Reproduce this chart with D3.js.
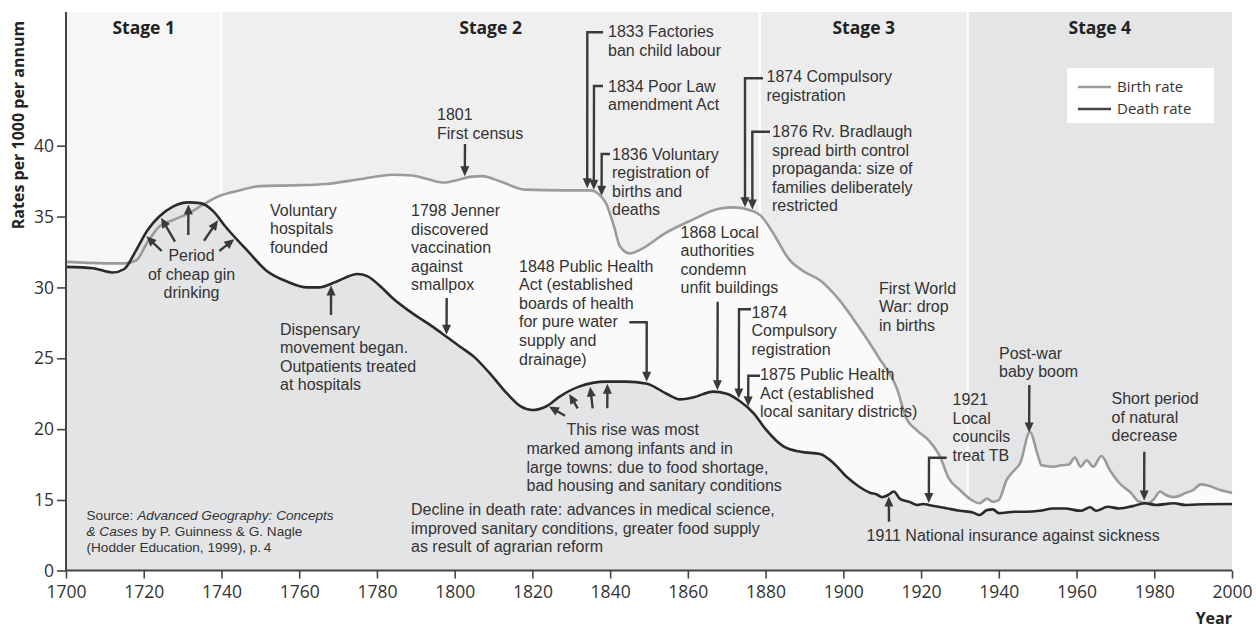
<!DOCTYPE html>
<html><head><meta charset="utf-8">
<script src="https://cdnjs.cloudflare.com/ajax/libs/d3/7.8.5/d3.min.js"></script>
<style>
body{margin:0;background:#fff}
svg text{font-family:"Open Sans",sans-serif;fill:#333}
svg text.note{font-family:"Liberation Sans",Arial,sans-serif}
</style></head><body>
<svg id="chart" width="1256" height="628"></svg>
<script>
// Birth and death rates, England and Wales, per 1000 per annum
const birthYears=[1700,1710,1715,1718,1721,1724,1728,1732,1735,1739,1744,1750,1758,1767,1776,1784,1789,1793,1797,1801,1804,1807,1812,1818,1828,1835,1837,1839,1841,1842.5,1845,1848,1854,1861,1868,1872,1876,1879,1882,1886,1890,1894,1899,1904,1909,1914,1916,1919,1922,1925,1927,1930,1933,1935,1937,1938.5,1940,1942,1944,1945.5,1948,1950,1951,1954,1956,1958,1959.6,1961,1962.6,1964.3,1966.4,1968.6,1971,1974,1976,1978.4,1980,1981.5,1983,1985,1987,1988,1990,1992,1994,1997,2000];
const birthRates=[31.8,31.7,31.7,31.9,33.2,34.3,34.8,35.3,35.8,36.4,36.8,37.15,37.2,37.3,37.65,37.95,37.9,37.65,37.4,37.6,37.8,37.85,37.45,36.9,36.85,36.85,36.6,35.9,34.3,32.9,32.4,32.7,33.8,34.75,35.55,35.65,35.45,35.0,33.8,32.0,31.1,30.5,29.1,27.2,25.1,22.7,20.9,19.9,19.2,18.0,16.6,15.7,15.0,14.3,15.1,14.6,15.0,16.4,17.1,17.6,19.8,18.2,17.45,17.35,17.45,17.5,18.0,17.35,17.8,17.35,18.1,17.1,16.2,15.5,14.7,14.3,15.1,15.6,15.35,15.2,15.35,15.5,15.7,16.1,16.0,15.7,15.5];
const deathYears=[1700,1707,1712,1715,1718,1721,1724,1727.5,1731.5,1734.5,1738,1741,1746.5,1751.5,1757,1762,1765,1769.5,1775,1777.5,1781,1784,1789,1794.5,1798,1801.5,1805,1809,1813.5,1817,1820,1823.5,1827,1832,1839,1844,1849.5,1854.5,1858,1861.5,1866.5,1870,1873.5,1877,1880,1884.5,1889,1894,1897.5,1901,1904,1907,1908.5,1910,1911.5,1913,1914.5,1917,1919,1920.5,1922,1926.5,1930,1933.5,1935,1937,1938.5,1940,1944,1947,1950.5,1954,1957,1961,1963.5,1965,1968,1971,1974.5,1977.5,1980.5,1985,1988,1993,2000];
const deathRates=[31.45,31.35,31.05,31.3,32.6,34.05,35.0,35.7,36.0,35.95,35.35,34.3,32.65,31.2,30.4,30.0,30.0,30.4,30.95,30.8,30.05,29.25,28.2,27.2,26.5,25.8,25.1,23.95,22.5,21.6,21.35,21.6,22.3,23.0,23.35,23.35,23.2,22.5,22.1,22.25,22.65,22.5,21.95,21.1,20.0,18.8,18.4,18.25,17.6,16.6,15.95,15.5,15.4,15.2,15.35,15.6,15.1,14.6,13.95,14.15,13.95,13.25,12.7,12.3,11.8,12.85,13.0,12.2,12.5,12.5,12.7,13.2,13.2,12.7,13.45,12.7,13.55,13.2,13.7,14.3,13.95,14.3,13.95,14.1,14.15];

// Demographic transition stages
const stageNames=["Stage 1","Stage 2","Stage 3","Stage 4"];
const stageBounds=[1700,1740,1878.5,1932,2000];
const stageFills=["#f6f6f6","#efeff0","#ececec","#e4e5e7"];

const xTicks=d3.range(1700,2001,20);
const yTicks=[0,15,20,25,30,35,40];

const birth=birthYears.map((d,i)=>({year:d,v:birthRates[i]}));
const death=deathYears.map((d,i)=>({year:d,v:deathRates[i]}));
const series={birth,death};

const svg=d3.select("#chart");
const plotTop=12;
// axis is broken below 15: 0–15 is compressed
const x=d3.scaleLinear().domain([1700,2000]).range([66,1232]);
const y=d3.scaleLinear().domain([0,15,40]).range([570.5,500,145.7]);
const base=y(0);

// stage bands with thin white separators
stageNames.forEach((s,i)=>{
  const x0=x(stageBounds[i])+(i>0?1:0), x1=x(stageBounds[i+1])-(i<3?1:0);
  svg.append("rect").attr("x",x0).attr("y",plotTop).attr("width",x1-x0).attr("height",base-plotTop).attr("fill",stageFills[i]);
  svg.append("text").attr("x",(x(stageBounds[i])+x(stageBounds[i+1]))/2).attr("y",34)
    .attr("text-anchor","middle").attr("font-weight","700").attr("font-size","17.5px").style("fill","#222").text(s);
});

const area=d3.area().curve(d3.curveMonotoneX).x(d=>x(d.year)).y0(base).y1(d=>y(d.v));
const line=d3.line().curve(d3.curveMonotoneX).x(d=>x(d.year)).y(d=>y(d.v));
svg.append("path").datum(birth).attr("d",area).attr("fill","#fafafa");
svg.append("path").datum(death).attr("d",area).attr("fill","#e3e4e6");
svg.append("path").datum(birth).attr("d",line).attr("fill","none").attr("stroke","#9b9b9b").attr("stroke-width",2.6);
svg.append("path").datum(death).attr("d",line).attr("fill","none").attr("stroke","#2a2a2a").attr("stroke-width",2.6);

// axes
const yAxis=svg.append("g").attr("transform","translate(66,0)")
  .call(d3.axisLeft(y).tickValues(yTicks).tickSize(9).tickPadding(3));
const xAxis=svg.append("g").attr("transform",`translate(0,${base})`)
  .call(d3.axisBottom(x).tickValues(xTicks).tickFormat(d3.format("d")).tickSize(8).tickPadding(7));
[yAxis,xAxis].forEach(g=>{
  g.select(".domain").remove();
  g.selectAll("line").attr("stroke","#444").attr("stroke-width",1.6);
  g.selectAll("text").attr("font-size","17.5px").attr("font-family","Open Sans").style("fill","#333");
});
svg.append("line").attr("x1",66).attr("x2",66).attr("y1",plotTop).attr("y2",base).attr("stroke","#444").attr("stroke-width",2);
svg.append("line").attr("x1",65).attr("x2",1232).attr("y1",base).attr("y2",base).attr("stroke","#444").attr("stroke-width",2);

svg.append("text").attr("transform","translate(24,125) rotate(-90)").attr("text-anchor","middle")
  .attr("font-weight","700").attr("font-size","16px").style("fill","#222").text("Rates per 1000 per annum");
svg.append("text").attr("x",1232).attr("y",624).attr("text-anchor","end")
  .attr("font-weight","700").attr("font-size","16px").style("fill","#222").text("Year");

// legend
const lg=svg.append("g");
lg.append("rect").attr("x",1067).attr("y",68).attr("width",147).attr("height",55).attr("fill","#fff");
[["Birth rate","#9b9b9b",87],["Death rate","#444",109]].forEach(([t,c,ly])=>{
  lg.append("line").attr("x1",1078).attr("x2",1111).attr("y1",ly).attr("y2",ly).attr("stroke",c).attr("stroke-width",2.6);
  lg.append("text").attr("x",1117).attr("y",ly+5).attr("font-size","15px").text(t);
});

// annotations
const notes=[
  {x:270,y:215.5,lines:["Voluntary","hospitals","founded"]},
  {x:191.5,y:261,anchor:"middle",lines:["Period","of cheap gin","drinking"]},
  {x:280,y:334.5,lines:["Dispensary","movement began.","Outpatients treated","at hospitals"]},
  {x:411,y:216,lines:["1798 Jenner","discovered","vaccination","against","smallpox"]},
  {x:437,y:120,lines:["1801","First census"]},
  {x:608,y:37,lines:["1833 Factories","ban child labour"]},
  {x:608,y:91.5,lines:["1834 Poor Law","amendment Act"]},
  {x:612,y:159.5,lines:["1836 Voluntary","registration of","births and","deaths"]},
  {x:766.5,y:82,lines:["1874 Compulsory","registration"]},
  {x:772,y:137,lines:["1876 Rv. Bradlaugh","spread birth control","propaganda: size of","families deliberately","restricted"]},
  {x:519,y:271.5,lines:["1848 Public Health","Act (established","boards of health","for pure water","supply and","drainage)"]},
  {x:680.5,y:237.5,lines:["1868 Local","authorities","condemn","unfit buildings"]},
  {x:751.5,y:317.5,lines:["1874","Compulsory","registration"]},
  {x:760,y:380,lines:["1875 Public Health","Act (established","local sanitary districts)"]},
  {x:566.5,y:435,lines:["This rise was most"]},
  {x:526.5,y:454,lines:["marked among infants and in","large towns: due to food shortage,","bad housing and sanitary conditions"]},
  {x:411,y:515,lines:["Decline in death rate: advances in medical science,","improved sanitary conditions, greater food supply","as result of agrarian reform"]},
  {x:879,y:293.5,lines:["First World","War: drop","in births"]},
  {x:999,y:358.5,lines:["Post-war","baby boom"]},
  {x:952.5,y:405,lines:["1921","Local","councils","treat TB"]},
  {x:1111.5,y:404,lines:["Short period","of natural","decrease"]},
  {x:866.5,y:541,lines:["1911 National insurance against sickness"]}
];
notes.forEach(n=>{
  const t=svg.append("text").attr("class","note").attr("font-size","16px")
    .attr("text-anchor",n.anchor||"start");
  n.lines.forEach((l,i)=>t.append("tspan").attr("x",n.x).attr("y",n.y+i*18.6).text(l));
});

// source note with italic title
const src=svg.append("text").attr("class","note").attr("font-size","13.6px");
const srcLines=[[["Source: ",0],["Advanced Geography: Concepts",1]],[["& Cases",1],[" by P. Guinness & G. Nagle",0]],[["(Hodder Education, 1999), p.\u20094",0]]];
srcLines.forEach((parts,i)=>{
  parts.forEach((p,j)=>{
    const ts=src.append("tspan").text(p[0]).attr("font-style",p[1]?"italic":"normal");
    if(j===0) ts.attr("x",86.5).attr("y",520+i*16);
  });
});

// arrows: pixel tail path, tip lands on a series at a given year
function valueAt(s,yr){
  const d=series[s];
  for(let i=1;i<d.length;i++){
    if(d[i].year>=yr){const a=d[i-1],b=d[i],t=(yr-a.year)/(b.year-a.year);return a.v+t*(b.v-a.v);}
  }
  return d[d.length-1].v;
}
const arrows=[
  {pts:[[161.7,251]],s:"death",yr:1720.3},
  {pts:[[175,241.7]],s:"death",yr:1724.2},
  {pts:[[188.3,235]],s:"death",yr:1731.5},
  {pts:[[204,240.7]],s:"death",yr:1739.4},
  {pts:[[219.3,251]],s:"death",yr:1743.7},
  {pts:[[331,315]],s:"death",yr:1768.2},
  {pts:[[446.7,298]],s:"death",yr:1797.9},
  {pts:[[465,144]],s:"birth",yr:1802.6},
  {pts:[[603,32.3],[587.3,32.3]],s:"birth",yr:1834.1},
  {pts:[[603,86],[594,86]],s:"birth",yr:1835.8},
  {pts:[[610,154],[601.7,154]],s:"birth",yr:1837.8},
  {pts:[[763,78.3],[745,78.3]],s:"birth",yr:1874.7},
  {pts:[[770,131.7],[752.3,131.7]],s:"birth",yr:1876.6},
  {pts:[[629.3,322.3],[646.7,322.3]],s:"death",yr:1849.4},
  {pts:[[717.7,301.7]],s:"death",yr:1867.6},
  {pts:[[751,309.3],[739,309.3]],s:"death",yr:1873.1},
  {pts:[[760,375.7],[748.3,375.7]],s:"death",yr:1875.5},
  {pts:[[565,415.7]],s:"death",yr:1823.8},
  {pts:[[577.7,408.3]],s:"death",yr:1829.2},
  {pts:[[592.7,408.3]],s:"death",yr:1834.8},
  {pts:[[607.3,408.3]],s:"death",yr:1839.3},
  {pts:[[1029.3,385]],s:"birth",yr:1947.8},
  {pts:[[946.7,457.7],[929,457.7]],s:"death",yr:1922.0},
  {pts:[[1144.3,451.7]],s:"birth",yr:1977.4},
  {pts:[[889,521.7]],s:"death",yr:1911.7}
];
const ag=svg.append("g");
arrows.forEach(a=>{
  const last=a.pts[a.pts.length-1];
  const cx=x(a.yr), cy=y(valueAt(a.s,a.yr));
  let dx=cx-last[0], dy=cy-last[1]; const len=Math.hypot(dx,dy); dx/=len; dy/=len;
  const tip=[cx-dx*2,cy-dy*2];
  const end=[tip[0]-dx*6,tip[1]-dy*6];
  const pts=a.pts.concat([end]);
  ag.append("path").attr("d",d3.line()(pts)).attr("fill","none").attr("stroke","#3a3a3a").attr("stroke-width",2.4);
  const hl=10,hw=4.5, bx=tip[0]-dx*hl, by=tip[1]-dy*hl;
  ag.append("path").attr("d",`M${tip[0]},${tip[1]}L${bx-dy*hw},${by+dx*hw}L${bx+dy*hw},${by-dx*hw}Z`).attr("fill","#3a3a3a");
});
</script></body></html>
